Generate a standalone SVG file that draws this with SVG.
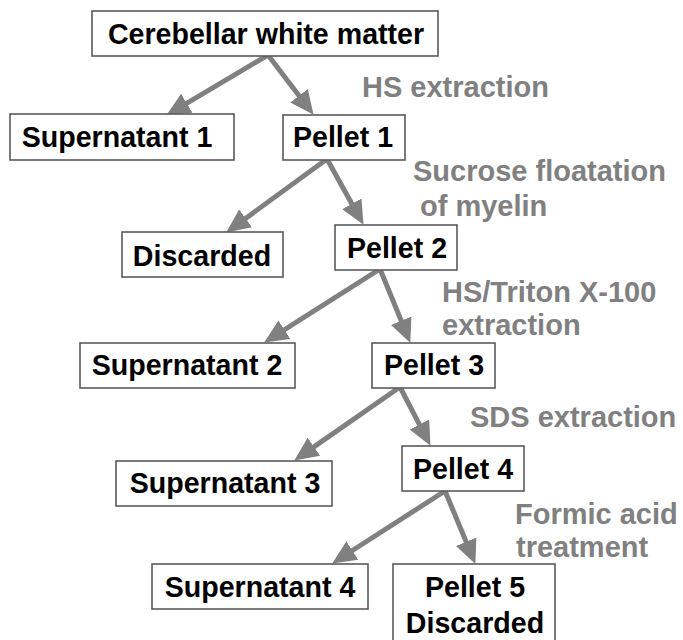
<svg xmlns="http://www.w3.org/2000/svg" width="683" height="640" viewBox="0 0 683 640">
<defs>
<style>
.box{fill:#fff;stroke:#5a5a5a;stroke-width:1.6}
.t{font-family:"Liberation Sans",Arial,sans-serif;font-weight:bold;font-size:28.6px;fill:#000;text-anchor:middle}
.g{font-family:"Liberation Sans",Arial,sans-serif;font-weight:bold;font-size:29px;fill:#808080}
.c line{stroke:#808080;stroke-width:5;marker-end:url(#ah)}
</style>
<marker id="ah" markerUnits="userSpaceOnUse" markerWidth="26" markerHeight="24" refX="11" refY="12" orient="auto">
<path d="M0,1 L24,12 L0,23 z" fill="#808080"/>
</marker>
</defs>
<rect width="683" height="640" fill="#fff"/>
<g id="connectors" class="c">
<line x1="268" y1="55" x2="177.3" y2="108.9"/>
<line x1="268" y1="55" x2="305.7" y2="104.5"/>
<line x1="327" y1="159" x2="236.7" y2="224.9"/>
<line x1="327" y1="159" x2="357.2" y2="213.5"/>
<line x1="380" y1="269" x2="275.1" y2="335.6"/>
<line x1="380" y1="269" x2="405.4" y2="330.9"/>
<line x1="400" y1="387" x2="304.9" y2="453.1"/>
<line x1="400" y1="387" x2="424.5" y2="434.3"/>
<line x1="445" y1="491" x2="343.1" y2="556.5"/>
<line x1="445" y1="491" x2="470.4" y2="551.9"/>
</g>
<g id="cerebellar"><rect class="box" x="92" y="11" width="346" height="45"/><text class="t" x="266" y="44">Cerebellar white matter</text></g>
<g id="supernatant1"><rect class="box" x="10" y="114" width="224" height="46"/><text class="t" x="117" y="147">Supernatant 1</text></g>
<g id="pellet1"><rect class="box" x="283" y="115" width="122" height="45"/><text class="t" x="343" y="147">Pellet 1</text></g>
<g id="discarded"><rect class="box" x="122" y="232" width="161" height="45"/><text class="t" x="202" y="266">Discarded</text></g>
<g id="pellet2"><rect class="box" x="335" y="225" width="122" height="45"/><text class="t" x="397" y="258">Pellet 2</text></g>
<g id="supernatant2"><rect class="box" x="80" y="343" width="215" height="45"/><text class="t" x="187" y="375">Supernatant 2</text></g>
<g id="pellet3"><rect class="box" x="372" y="343" width="123" height="45"/><text class="t" x="434" y="375">Pellet 3</text></g>
<g id="supernatant3"><rect class="box" x="116" y="461" width="216" height="45"/><text class="t" x="225" y="493">Supernatant 3</text></g>
<g id="pellet4"><rect class="box" x="402" y="446" width="122" height="45"/><text class="t" x="463" y="479">Pellet 4</text></g>
<g id="supernatant4"><rect class="box" x="152" y="564" width="216" height="45"/><text class="t" x="260" y="597">Supernatant 4</text></g>
<g id="pellet5"><rect class="box" x="393" y="564" width="162" height="82"/><text class="t" x="475" y="597">Pellet 5</text><text class="t" x="475" y="633">Discarded</text></g>
<g id="labels">
<text class="g" x="362" y="97">HS extraction</text>
<text class="g" x="413" y="181">Sucrose floatation</text>
<text class="g" x="420" y="216">of myelin</text>
<text class="g" x="442" y="302">HS/Triton X-100</text>
<text class="g" x="442" y="335">extraction</text>
<text class="g" x="470" y="427">SDS extraction</text>
<text class="g" x="515" y="524">Formic acid</text>
<text class="g" x="516" y="557">treatment</text>
</g>
</svg>
